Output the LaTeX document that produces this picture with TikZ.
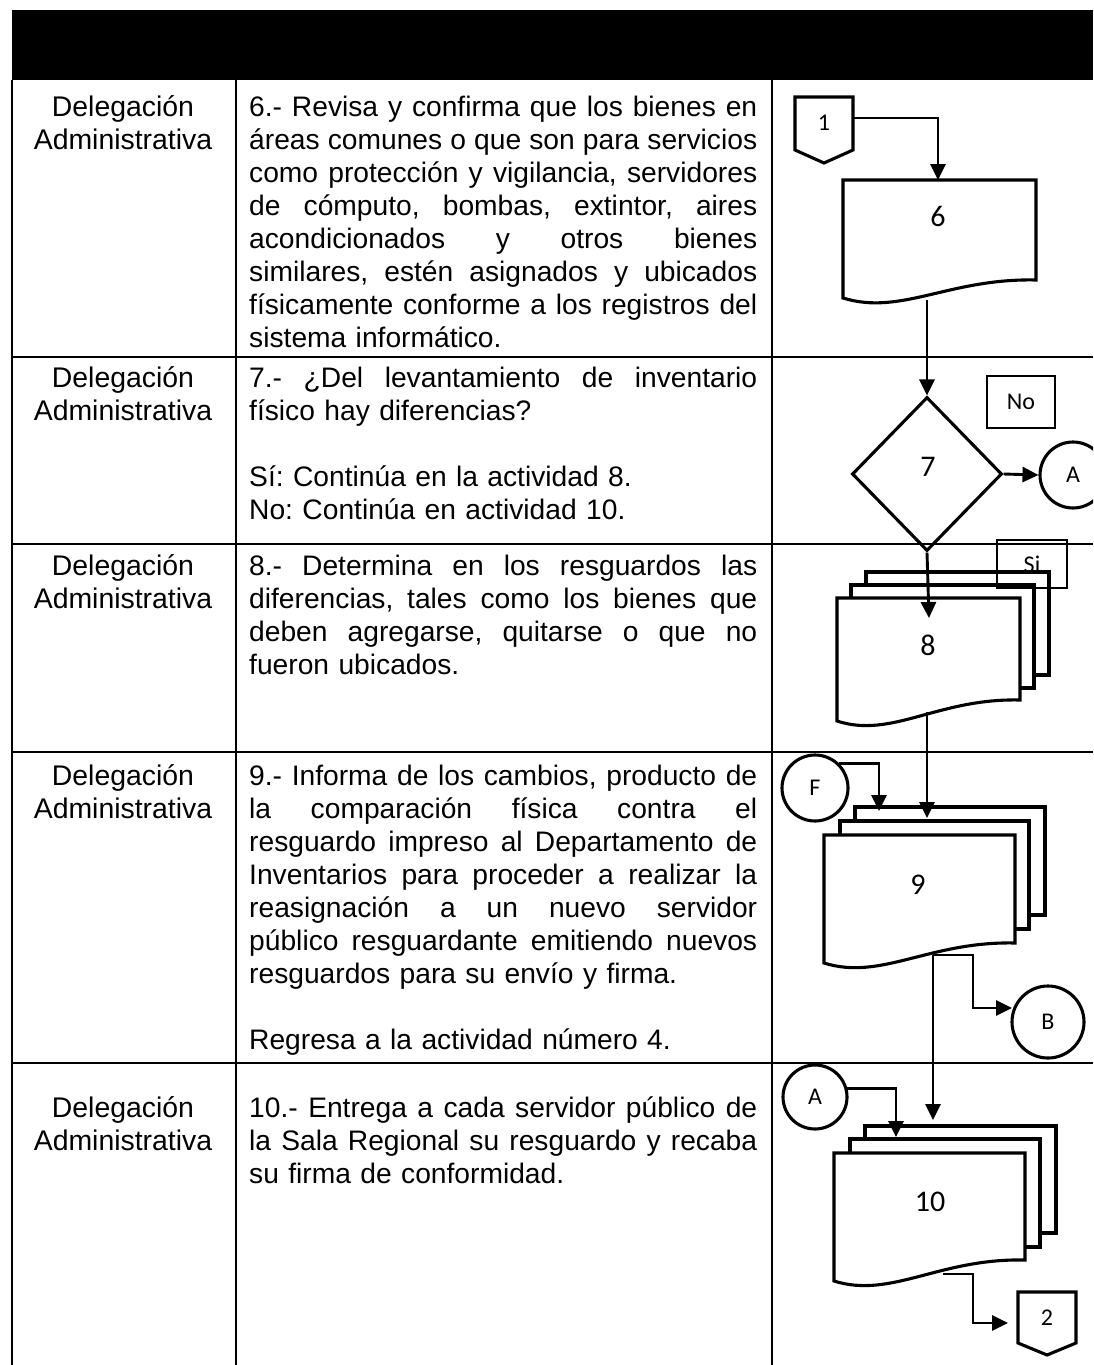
\documentclass[tikz,border=0pt]{standalone}
\usepackage{fontspec}
\setmainfont{Liberation Sans}
\newfontfamily\calfont{Carlito}
\usetikzlibrary{arrows.meta,shapes.geometric}
\newlength\cw
\setlength\cw{508pt}
\newcommand\jl[1]{\leavevmode\hbox to\cw{\spaceskip=.278em plus 1fil\relax\xspaceskip=\spaceskip #1}}
\newcommand\pagerect[4]{\draw[shp,fill=white] (#1,#2) rectangle (#3,#4);}
\newcommand\docfront[5]{\draw[shp,fill=white] (#1,#2) -- (#3,#2) -- (#3,#4) .. controls ({#1+0.55*(#3-#1)},{#4-2}) and ({#1+0.3*(#3-#1)},{#5+18}) .. (#1,#5) -- cycle;}
\begin{document}
\begin{tikzpicture}[x=1pt,y=-1pt,
  shp/.style={line width=3.1pt},
  tbl/.style={line width=2pt},
  arr/.style={line width=2.9pt,-{Triangle[length=16pt,width=15pt]}},
  lane/.style={anchor=base, inner sep=0, text width=224pt, align=center, font=\fontsize{28.4}{33}\selectfont\frenchspacing},
  body/.style={anchor=base west, inner sep=0, text width=\cw, align=left, font=\fontsize{28.2}{33}\selectfont\frenchspacing},
  lbl/.style={font=\calfont\fontsize{30}{33}\selectfont, inner sep=0},
  slbl/.style={font=\calfont\fontsize{24}{27}\selectfont, inner sep=0},
  conn/.style={circle, draw, line width=3.1pt, inner sep=0, font=\calfont\fontsize{24}{27}\selectfont},
  tagbox/.style={draw, line width=2.8pt, inner sep=0, font=\calfont\fontsize{24}{27}\selectfont}
]
\useasboundingbox (0,0) rectangle (1093,1365);
\clip (0,0) rectangle (1093,1365);

% header and table
\fill (12,10) rectangle (1093,80);
\draw[tbl] (12,80) -- (12,1365);
\draw[tbl] (236,80) -- (236,1365);
\draw[tbl] (772,80) -- (772,1365);
\draw[tbl] (12,357) -- (1093,357);
\draw[tbl] (12,544) -- (1093,544);
\draw[tbl] (12,752) -- (1093,752);
\draw[tbl] (12,1063) -- (1093,1063);

% lane texts
\node[lane] (l1) at (123,116) {Delegación\\Administrativa};
\node[lane] (l2) at (123,387) {Delegación\\Administrativa};
\node[lane] (l3) at (123,575) {Delegación\\Administrativa};
\node[lane] (l4) at (123,785) {Delegación\\Administrativa};
\node[lane] (l5) at (123,1117) {Delegación\\Administrativa};

% activity texts
\node[body] (t1) at (249,116) {\jl{6.- Revisa y confirma que los bienes en}\\
\jl{áreas comunes o que son para servicios}\\
\jl{como protección y vigilancia, servidores}\\
\jl{de cómputo, bombas, extintor, aires}\\
\jl{acondicionados y otros bienes}\\
\jl{similares, estén asignados y ubicados}\\
\jl{físicamente conforme a los registros del}\\
sistema informático.};
\node[body] (t2) at (249,387) {\jl{7.- ¿Del levantamiento de inventario}\\
físico hay diferencias?\\[33pt]
Sí: Continúa en la actividad 8.\\
No: Continúa en actividad 10.};
\node[body] (t3) at (249,575) {\jl{8.- Determina en los resguardos las}\\
\jl{diferencias, tales como los bienes que}\\
\jl{deben agregarse, quitarse o que no}\\
fueron ubicados.};
\node[body] (t4) at (249,785) {\jl{9.- Informa de los cambios, producto de}\\
\jl{la comparación física contra el}\\
\jl{resguardo impreso al Departamento de}\\
\jl{Inventarios para proceder a realizar la}\\
\jl{reasignación a un nuevo servidor}\\
\jl{público resguardante emitiendo nuevos}\\
resguardos para su envío y firma.\\[33pt]
Regresa a la actividad número 4.};
\node[body] (t5) at (249,1117) {\jl{10.- Entrega a cada servidor público de}\\
\jl{la Sala Regional su resguardo y recaba}\\
su firma de conformidad.};

% off-page connector 1
\draw[shp] (795,97) -- (853,97) -- (853,150) -- (824,163) -- (795,150) -- cycle;
\node[slbl] (o1) at (824,123) {1};
\coordinate (o1r) at (853,118);

% document 6
\docfront{843}{180}{1036}{280}{298}
\node[lbl] (d6) at (938,216) {6};
\coordinate (d6top) at (938,180);
\coordinate (d6bot) at (927,300);

% decision 7
\node[diamond, draw, shp, minimum width=150pt, minimum height=154pt, inner sep=0] (d7) at (927,474) {};
\node[lbl] (d7t) at (928,467) {7};
\node[tagbox, minimum width=68pt, minimum height=52pt] (no) at (1021,402) {No};
\node[conn, minimum size=66pt] (A1) at (1073,475) {A};

% document 8
\pagerect{866}{572}{1049}{675}
\pagerect{851}{585}{1034}{688}
\docfront{837}{598}{1020}{700}{721}
\node[lbl] (d8) at (928,645) {8};
\node[tagbox, minimum width=70pt, minimum height=48pt] (si) at (1032,564) {Si};
\coordinate (d8in) at (929,618);
\coordinate (d8bot) at (927,712);

% document 9
\node[conn, minimum size=66pt] (F) at (815,788) {F};
\pagerect{855}{807}{1045}{915}
\pagerect{840}{821}{1029}{929}
\docfront{824}{835}{1015}{943}{963}
\node[lbl] (d9) at (918,885) {9};
\coordinate (d9in) at (927,818);
\coordinate (d9inF) at (879,811);
\coordinate (d9bot) at (933,955);
\node[conn, minimum size=72pt] (B) at (1048,1022) {B};
\coordinate (c9turn) at (973,1008);
\coordinate (Bin) at (1012,1008);

% document 10
\node[conn, minimum size=64pt] (A2) at (815,1097) {A};
\pagerect{865}{1126}{1056}{1233}
\pagerect{850}{1139}{1040}{1247}
\docfront{834}{1153}{1025}{1260}{1281}
\node[lbl] (d10) at (930,1202) {10};
\coordinate (d10in) at (933,1120);
\coordinate (d10inA) at (896,1137);
\coordinate (d10bot) at (943,1274);
\coordinate (c10turn) at (973,1323);
\coordinate (o2in) at (1008,1323);

% off-page connector 2
\draw[shp] (1018,1292) -- (1076,1292) -- (1076,1343) -- (1047,1355) -- (1018,1343) -- cycle;
\node[slbl] (o2) at (1047,1318) {2};

% connectors
\draw[arr] (o1r) -| (d6top);
\draw[arr] (d6bot) -- (d7.north);
\draw[arr] (d7.east) -- (A1.west);
\draw[arr] (d7.south) -- (d8in);
\draw[arr] (d8bot) -- (d9in);
\draw[arr] (F.north east) -| (d9inF);
\draw[arr] (d9bot) -- (d10in);
\draw[arr] (d9bot) -| (c9turn) -- (Bin);
\draw[arr] (A2.15) -| (d10inA);
\draw[arr] (d10bot) -| (c10turn) -- (o2in);
\end{tikzpicture}
\end{document}
